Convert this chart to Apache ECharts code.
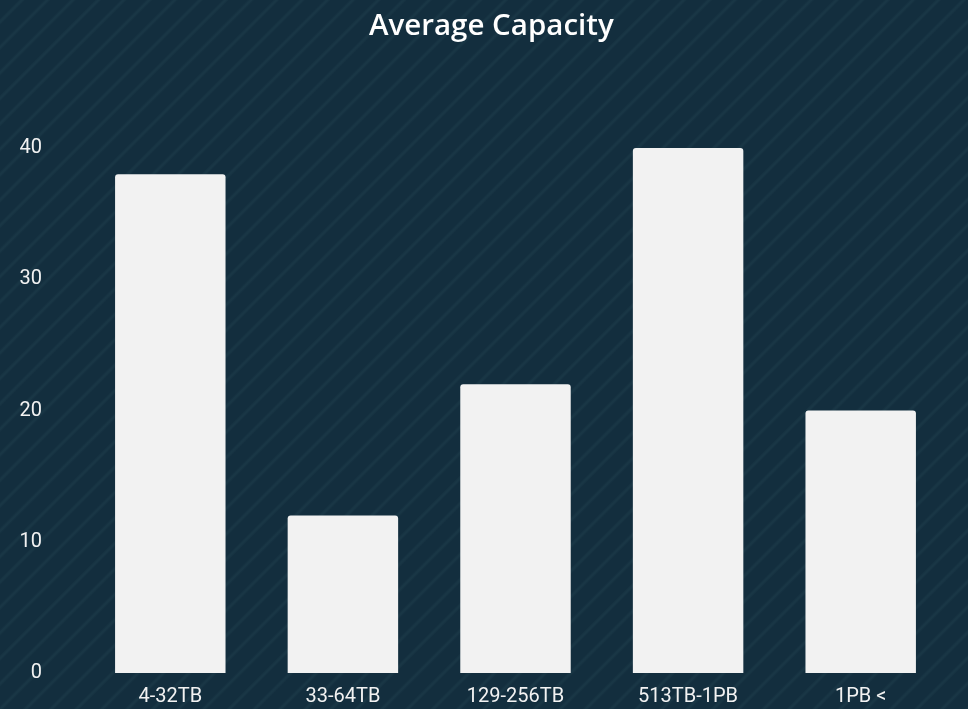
<!DOCTYPE html>
<html>
<head>
<meta charset="utf-8">
<script src="https://cdn.jsdelivr.net/npm/echarts@6/dist/echarts.min.js"></script>
<style>
  html, body { margin: 0; padding: 0; }
  body {
    width: 968px; height: 709px; overflow: hidden;
    background-color: #132e3e;
    background-image: repeating-linear-gradient(135deg, #132e3e 0px, #132e3e 13px, #193645 15px, #193645 16px, #132e3e 18px);
  }
  #chart { width: 968px; height: 709px; }
</style>
</head>
<body>
<div id="chart"></div>
<script>
const categories = ['4-32TB', '33-64TB', '129-256TB', '513TB-1PB', '1PB <'];
const capacity = [38, 12, 22, 40, 20];

const chart = echarts.init(document.getElementById('chart'));

chart.setOption({
  backgroundColor: 'transparent',
  title: {
    text: 'Average Capacity',
    left: 364,
    top: 7,
    textStyle: {
      color: '#ffffff',
      fontFamily: 'Open Sans',
      fontWeight: 600,
      fontSize: 29.5
    }
  },
  grid: {
    left: 84,
    right: 21,
    top: 148,
    bottom: 36
  },
  xAxis: {
    type: 'category',
    data: categories,
    axisLine: { show: false },
    axisTick: { show: false },
    axisLabel: {
      color: '#f2f2f2',
      fontFamily: 'Roboto',
      fontSize: 20,
      margin: 14
    }
  },
  yAxis: {
    type: 'value',
    min: 0,
    max: 40,
    interval: 10,
    splitLine: { show: false },
    axisLine: { show: false },
    axisTick: { show: false },
    axisLabel: {
      color: '#f2f2f2',
      fontFamily: 'Roboto',
      fontSize: 20,
      margin: 42
    }
  },
  series: [{
    type: 'bar',
    data: capacity,
    barWidth: '64%',
    itemStyle: {
      color: '#f2f2f2',
      borderRadius: [3, 3, 0, 0]
    }
  }]
});
</script>
</body>
</html>
